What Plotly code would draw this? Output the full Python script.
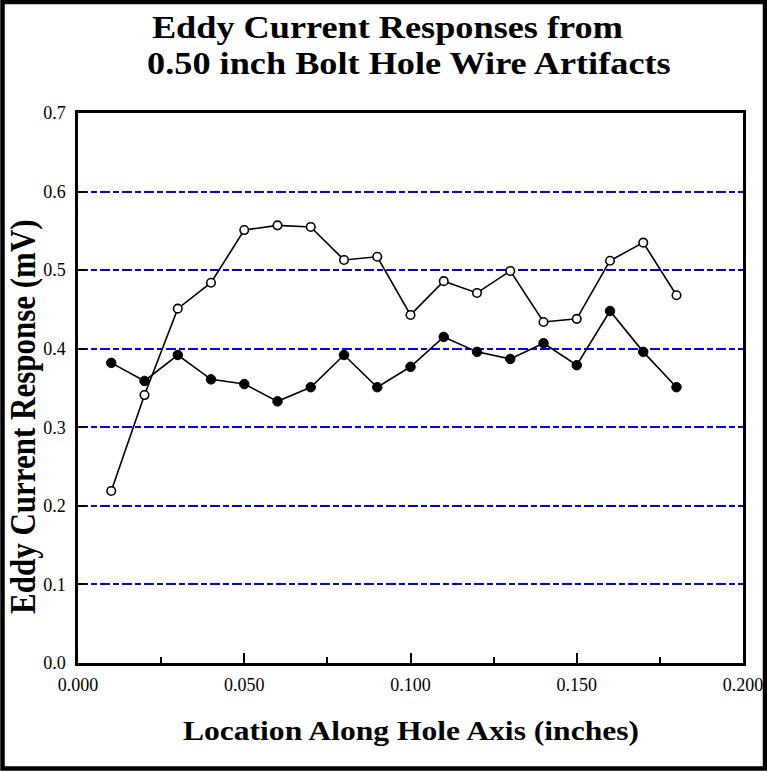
import plotly.graph_objects as go

x_loc = [0.01, 0.02, 0.03, 0.04, 0.05, 0.06, 0.07, 0.08, 0.09, 0.10,
         0.11, 0.12, 0.13, 0.14, 0.15, 0.16, 0.17, 0.18]
open_series = [0.219, 0.341, 0.451, 0.484, 0.551, 0.557, 0.555, 0.513, 0.517, 0.443,
               0.486, 0.471, 0.499, 0.434, 0.438, 0.512, 0.535, 0.468]
filled_series = [0.382, 0.359, 0.392, 0.361, 0.355, 0.333, 0.351, 0.392, 0.351, 0.377,
                 0.415, 0.396, 0.387, 0.407, 0.379, 0.448, 0.396, 0.351]
x_ticks = [0.0, 0.05, 0.10, 0.15, 0.20]
x_tick_text = ["0.000", "0.050", "0.100", "0.150", "0.200"]
y_ticks = [0.0, 0.1, 0.2, 0.3, 0.4, 0.5, 0.6, 0.7]
y_tick_text = ["0.0", "0.1", "0.2", "0.3", "0.4", "0.5", "0.6", "0.7"]
title_lines = ["Eddy Current Responses from", "0.50 inch Bolt Hole Wire Artifacts"]
x_title = "Location Along Hole Axis (inches)"
y_title = "Eddy Current Response (mV)"

FONT = "Liberation Serif, Times New Roman, serif"

fig = go.Figure()

fig.add_trace(go.Scatter(x=x_loc, y=filled_series, mode="lines+markers",
                         line=dict(color="black", width=1.6),
                         marker=dict(symbol="circle", size=9.5, color="black",
                                     line=dict(color="black", width=1)),
                         showlegend=False))
fig.add_trace(go.Scatter(x=x_loc, y=open_series, mode="lines+markers",
                         line=dict(color="black", width=1.6),
                         marker=dict(symbol="circle", size=8.5, color="white",
                                     line=dict(color="black", width=1.6)),
                         showlegend=False))

W, H = 767, 771
L, R, T, B = 78, 24, 113, 108
pw, ph = W - L - R, H - T - B


def px_x(px):
    return (px - L) / pw


def px_y(py):
    return (H - B - py) / ph


fig.update_layout(
    width=W, height=H,
    margin=dict(l=L, r=R, t=T, b=B, pad=0, autoexpand=False),
    paper_bgcolor="white", plot_bgcolor="white",
    font=dict(family=FONT, color="black"),
    xaxis=dict(range=[0, 0.2], tickvals=x_ticks, ticktext=x_tick_text,
               ticks="inside", ticklen=10, tickwidth=2, tickcolor="black",
               minor=dict(ticks="inside", ticklen=6, tickwidth=2, tickcolor="black", dtick=0.025),
               showgrid=False, zeroline=False, showline=True, linecolor="black", linewidth=2.5,
               mirror=True, tickfont=dict(size=18, family=FONT), ticklabelstandoff=4,
               automargin=False),
    yaxis=dict(range=[0, 0.7], tickvals=y_ticks, ticktext=y_tick_text,
               ticks="inside", ticklen=8, tickwidth=2, tickcolor="black",
               showgrid=True, gridcolor="#0000ff", gridwidth=2, griddash="10px,3px,6px,3px",
               zeroline=False, showline=True, linecolor="black", linewidth=2.5,
               mirror=True, tickfont=dict(size=18, family=FONT), ticklabelstandoff=6,
               automargin=False),
    annotations=[
        dict(text="<b>%s</b>" % title_lines[0], xref="paper", yref="paper",
             x=px_x(387), y=px_y(27), xanchor="center", yanchor="middle",
             showarrow=False, font=dict(size=31, family=FONT)),
        dict(text="<b>%s</b>" % title_lines[1], xref="paper", yref="paper",
             x=px_x(409), y=px_y(63), xanchor="center", yanchor="middle",
             showarrow=False, font=dict(size=31, family=FONT)),
        dict(text="<b>%s</b>" % x_title, xref="paper", yref="paper",
             x=px_x(411), y=px_y(731), xanchor="center", yanchor="middle",
             showarrow=False, font=dict(size=27, family=FONT)),
        dict(text="<b>%s</b>" % y_title, xref="paper", yref="paper",
             x=px_x(22), y=px_y(417), xanchor="center", yanchor="middle", textangle=-90,
             showarrow=False, font=dict(size=31, family=FONT)),
    ],
    shapes=[
        dict(type="rect", xref="paper", yref="paper",
             x0=px_x(2.5), x1=px_x(765), y0=px_y(768.5), y1=px_y(2),
             line=dict(color="black", width=4.5), fillcolor="rgba(0,0,0,0)", layer="above"),
    ],
)

post = """
document.documentElement.style.overflow = 'hidden';
document.body.style.margin = '0px';
document.body.style.overflow = 'hidden';
var st = document.createElement('style');
st.textContent = ".annotation[data-index='0'] .annotation-text, .annotation[data-index='1'] .annotation-text, .annotation[data-index='2'] .annotation-text {transform-box: fill-box; transform-origin: center; transform: scaleX(1.17);} .annotation[data-index='3'] .annotation-text {transform-box: fill-box; transform-origin: center; transform: scaleY(1.17);}";
document.head.appendChild(st);
"""

fig.write_html("out.html", post_script=post, config={"displayModeBar": False})
